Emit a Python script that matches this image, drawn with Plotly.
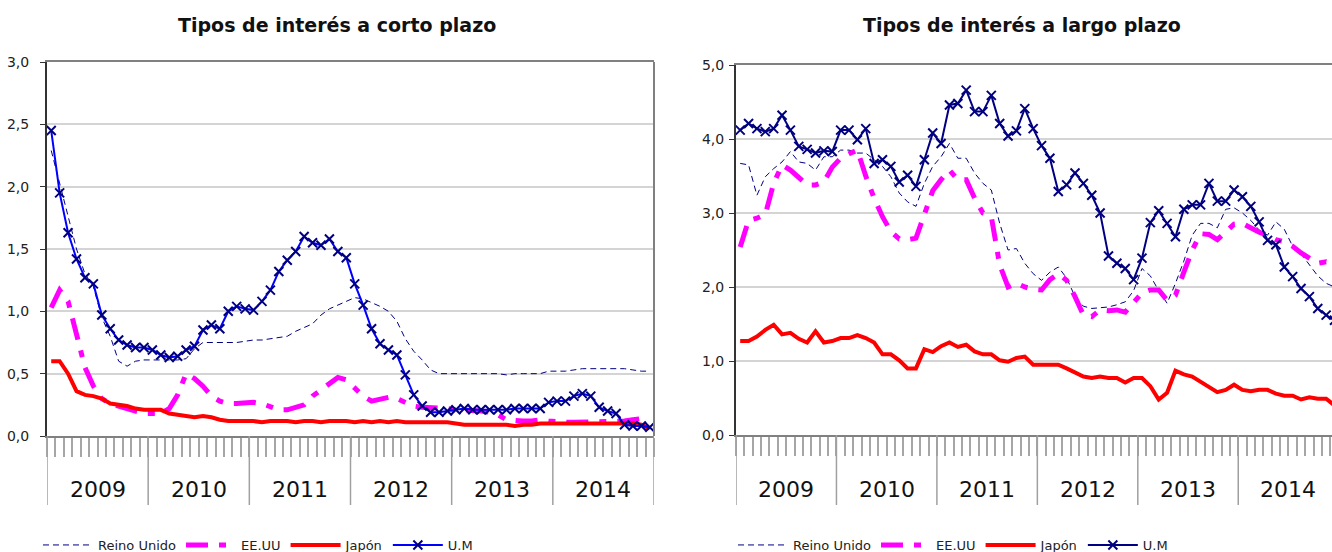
import plotly.graph_objects as go

# ---------------- data ----------------
years = ["2009", "2010", "2011", "2012", "2013", "2014"]
n_months = 72
month_idx = list(range(n_months))

# Short-term rates (Tipos de interés a corto plazo)
st_reino_unido = [
    2.29, 2.02, 1.75, 1.50, 1.30, 1.20, 0.95, 0.80, 0.60, 0.56, 0.60, 0.61,
    0.61, 0.61, 0.61, 0.61, 0.62, 0.70, 0.75, 0.75, 0.75, 0.75, 0.75, 0.76,
    0.77, 0.77, 0.78, 0.79, 0.80, 0.84, 0.87, 0.90, 0.97, 1.02, 1.05, 1.08,
    1.11, 1.10, 1.07, 1.04, 1.00, 0.92, 0.78, 0.68, 0.61, 0.53, 0.50, 0.50,
    0.50, 0.50, 0.50, 0.50, 0.50, 0.50, 0.49, 0.50, 0.50, 0.50, 0.50, 0.52,
    0.52, 0.52, 0.53, 0.54, 0.54, 0.54, 0.54, 0.54, 0.54, 0.53, 0.52, 0.52,
]
st_eeuu = [
    1.03, 1.17, 1.08, 0.80, 0.55, 0.40, 0.30, 0.26, 0.24, 0.21, 0.19, 0.18,
    0.18, 0.18, 0.22, 0.33, 0.50, 0.46, 0.40, 0.32, 0.28, 0.26, 0.26, 0.27,
    0.27, 0.26, 0.24, 0.21, 0.21, 0.23, 0.25, 0.32, 0.37, 0.41, 0.47, 0.45,
    0.38, 0.32, 0.28, 0.29, 0.31, 0.30, 0.27, 0.24, 0.23, 0.23, 0.23, 0.22,
    0.21, 0.21, 0.20, 0.20, 0.19, 0.17, 0.13, 0.12, 0.12, 0.12, 0.13, 0.12,
    0.11, 0.11, 0.11, 0.11, 0.11, 0.11, 0.11, 0.12, 0.12, 0.13, 0.14, 0.12,
]
st_japon = [
    0.60, 0.60, 0.50, 0.36, 0.33, 0.32, 0.30, 0.26, 0.25, 0.24, 0.22, 0.21,
    0.21, 0.21, 0.18, 0.17, 0.16, 0.15, 0.16, 0.15, 0.13, 0.12, 0.12, 0.12,
    0.12, 0.11, 0.12, 0.12, 0.12, 0.11, 0.12, 0.12, 0.11, 0.12, 0.12, 0.12,
    0.11, 0.12, 0.11, 0.12, 0.11, 0.12, 0.11, 0.11, 0.11, 0.11, 0.11, 0.11,
    0.10, 0.09, 0.09, 0.09, 0.09, 0.09, 0.09, 0.08, 0.09, 0.09, 0.10, 0.10,
    0.10, 0.10, 0.10, 0.10, 0.10, 0.10, 0.10, 0.10, 0.10, 0.10, 0.09, 0.06,
]
st_um = [
    2.45, 1.95, 1.63, 1.42, 1.27, 1.22, 0.97, 0.86, 0.77, 0.73, 0.71, 0.71,
    0.69, 0.65, 0.63, 0.64, 0.69, 0.72, 0.85, 0.89, 0.86, 1.00, 1.04, 1.02,
    1.01, 1.08, 1.17, 1.32, 1.41, 1.48, 1.60, 1.55, 1.53, 1.58, 1.48, 1.43,
    1.22, 1.05, 0.86, 0.74, 0.69, 0.65, 0.49, 0.33, 0.24, 0.19, 0.19, 0.20,
    0.21, 0.22, 0.21, 0.21, 0.21, 0.21, 0.21, 0.22, 0.22, 0.22, 0.22, 0.27,
    0.28, 0.28, 0.32, 0.34, 0.32, 0.23, 0.20, 0.18, 0.09, 0.08, 0.08, 0.07,
]

# Long-term rates (Tipos de interés a largo plazo)
lt_reino_unido = [
    3.67, 3.65, 3.24, 3.49, 3.60, 3.69, 3.83, 3.69, 3.67, 3.58, 3.76, 3.76,
    3.85, 3.85, 3.81, 3.81, 3.72, 3.63, 3.49, 3.27, 3.15, 3.09, 3.40, 3.63,
    3.76, 3.94, 3.74, 3.74, 3.54, 3.40, 3.31, 2.86, 2.50, 2.52, 2.32, 2.18,
    2.09, 2.20, 2.27, 2.12, 1.87, 1.74, 1.71, 1.72, 1.73, 1.76, 1.80, 1.95,
    2.25, 2.15, 1.95, 1.78, 2.05, 2.35, 2.70, 2.86, 2.86, 2.80, 3.05, 3.07,
    3.00, 2.90, 2.77, 2.70, 2.88, 2.78, 2.55, 2.45, 2.30, 2.15, 2.05, 2.00,
]
lt_eeuu = [
    2.54, 2.90, 2.93, 2.98, 3.40, 3.65, 3.58, 3.47, 3.38, 3.38, 3.42, 3.62,
    3.74, 3.80, 3.85, 3.50, 3.20, 2.95, 2.75, 2.65, 2.64, 2.66, 3.00, 3.30,
    3.45, 3.58, 3.45, 3.45, 3.20, 3.00, 2.95, 2.30, 2.00, 2.05, 2.00, 1.97,
    1.96, 2.10, 2.18, 2.09, 1.87, 1.62, 1.60, 1.69, 1.68, 1.69, 1.66, 1.80,
    1.92, 1.96, 1.96, 1.82, 1.89, 2.20, 2.50, 2.72, 2.71, 2.64, 2.75, 2.85,
    2.86, 2.80, 2.74, 2.70, 2.64, 2.61, 2.55, 2.46, 2.38, 2.32, 2.34, 2.30,
]
lt_japon = [
    1.27, 1.27, 1.33, 1.42, 1.49, 1.36, 1.38, 1.30, 1.25, 1.40, 1.25, 1.27,
    1.31, 1.31, 1.35, 1.31, 1.25, 1.09, 1.09, 1.01, 0.90, 0.90, 1.16, 1.12,
    1.20, 1.25, 1.19, 1.22, 1.13, 1.09, 1.09, 1.01, 0.99, 1.04, 1.06, 0.95,
    0.95, 0.95, 0.95, 0.90, 0.85, 0.79, 0.77, 0.79, 0.77, 0.77, 0.71, 0.77,
    0.77, 0.66, 0.48, 0.57, 0.87, 0.82, 0.79, 0.72, 0.66, 0.58, 0.61, 0.68,
    0.61, 0.59, 0.61, 0.61, 0.56, 0.53, 0.53, 0.48, 0.51, 0.49, 0.49, 0.40,
]
lt_um = [
    4.12, 4.21, 4.14, 4.10, 4.14, 4.32, 4.12, 3.90, 3.86, 3.81, 3.84, 3.83,
    4.12, 4.12, 3.99, 4.14, 3.67, 3.72, 3.63, 3.42, 3.51, 3.36, 3.72, 4.08,
    3.94, 4.46, 4.48, 4.66, 4.37, 4.37, 4.59, 4.21, 4.04, 4.11, 4.41, 4.14,
    3.91, 3.74, 3.29, 3.38, 3.54, 3.40, 3.24, 3.00, 2.42, 2.32, 2.25, 2.10,
    2.39, 2.87, 3.03, 2.86, 2.68, 3.05, 3.11, 3.11, 3.40, 3.16, 3.16, 3.31,
    3.22, 3.09, 2.88, 2.63, 2.57, 2.27, 2.14, 1.98, 1.87, 1.71, 1.62, 1.55,
]

series_names = ["Reino Unido", "EE.UU", "Japón", "U.M"]
titles = ["Tipos de interés a corto plazo", "Tipos de interés a largo plazo"]

# ---------------- styles ----------------
NAVY = "#000080"
MAG = "#ff00ff"
RED = "#ff0000"
FONT = "DejaVu Sans"

fig = go.Figure()


def add_panel(xa, ya, legend, data, um_line_color):
    uk, us, jp, um = data
    fig.add_trace(go.Scatter(x=month_idx, y=uk, name=series_names[0], mode="lines",
                             line=dict(color=NAVY, width=1, dash="6px,4px"),
                             xaxis=xa, yaxis=ya, legend=legend))
    fig.add_trace(go.Scatter(x=month_idx, y=us, name=series_names[1], mode="lines",
                             line=dict(color=MAG, width=5, dash="22px,11px,7px,11px"),
                             xaxis=xa, yaxis=ya, legend=legend))
    fig.add_trace(go.Scatter(x=month_idx, y=jp, name=series_names[2], mode="lines",
                             line=dict(color=RED, width=4),
                             xaxis=xa, yaxis=ya, legend=legend))
    fig.add_trace(go.Scatter(x=month_idx, y=um, name=series_names[3], mode="lines+markers",
                             line=dict(color=um_line_color, width=2),
                             marker=dict(symbol="x-thin", size=9,
                                         line=dict(width=2, color=NAVY)),
                             xaxis=xa, yaxis=ya, legend=legend))


add_panel("x", "y", "legend", (st_reino_unido, st_eeuu, st_japon, st_um), "#0000ff")
add_panel("x2", "y2", "legend2", (lt_reino_unido, lt_eeuu, lt_japon, lt_um), NAVY)

year_bounds = [12 * k - 0.5 for k in range(len(years) + 1)]
month_bounds = [m - 0.5 for m in range(n_months + 1)]


def xaxis_cfg(domain, rng, anchor):
    return dict(
        domain=domain, range=rng, showgrid=False, zeroline=False, anchor=anchor,
        showline=True, linecolor="#808080", linewidth=2, mirror=True,
        tickmode="array", tickvals=month_bounds, ticktext=[""] * len(month_bounds),
        ticks="outside", ticklen=19, tickcolor="#a6a6a6", tickwidth=1.5,
        automargin=False,
    )


def yaxis_cfg(domain, rng, dtick, anchor, standoff):
    return dict(
        domain=domain, range=rng, dtick=dtick, tick0=0, tickformat=".1f",
        showgrid=True, gridcolor="#d4d4d4", gridwidth=1.5, zeroline=False,
        showline=True, linecolor="#333333", linewidth=2,
        ticks="outside", ticklen=5, tickcolor="#333333",
        tickfont=dict(family=FONT, size=14, color="#222"),
        ticklabelstandoff=standoff, anchor=anchor, automargin=False,
    )


legend_common = dict(orientation="h", xanchor="left", y=7 / 552, yanchor="middle",
                     font=dict(family=FONT, size=13, color="#222"),
                     bgcolor="rgba(0,0,0,0)", itemwidth=50, tracegroupgap=0)

fig.update_layout(
    width=1332, height=552,
    margin=dict(l=0, r=0, t=0, b=0, autoexpand=False),
    paper_bgcolor="white", plot_bgcolor="white",
    separators=",.",
    showlegend=True,
    xaxis=xaxis_cfg([47 / 1332, 654 / 1332], [-0.5, 71.5], "y"),
    yaxis=yaxis_cfg([116 / 552, 490 / 552], [0, 3.0], 0.5, "x", 8),
    xaxis2=xaxis_cfg([736 / 1332, 1.0], [-0.5, 70.7], "y2"),
    yaxis2=yaxis_cfg([117 / 552, 487 / 552], [0, 5.0], 1.0, "x2", 2),
    legend=dict(legend_common, x=38 / 1332),
    legend2=dict(legend_common, x=733 / 1332),
)

# right border of left panel
fig.add_shape(type="line", xref="x domain", yref="y domain", x0=1, x1=1, y0=0, y1=1,
              line=dict(color="#808080", width=2))

# year separators below the axis (from the axis down to y≈505 px)
for xa, ya_dom in [("x", 116 / 552), ("x2", 117 / 552)]:
    for b in year_bounds:
        fig.add_shape(type="line", xref=xa, yref="paper", x0=b, x1=b,
                      y0=ya_dom, y1=(552 - 505) / 552,
                      line=dict(color="#a0a0a0", width=1.5))

# titles
for title, cx in zip(titles, [337, 1022]):
    fig.add_annotation(text=f"<b>{title}</b>", xref="paper", yref="paper",
                       x=cx / 1332, y=(552 - 25) / 552, showarrow=False,
                       xanchor="center", yanchor="middle",
                       font=dict(family=FONT, size=19, color="#111"))

# year labels
for xa in ["x", "x2"]:
    for k, yr in enumerate(years):
        fig.add_annotation(text=yr, xref=xa, yref="paper", x=12 * k + 5.5,
                           y=(552 - 489) / 552, showarrow=False,
                           xanchor="center", yanchor="middle",
                           font=dict(family=FONT, size=22, color="#111"))

fig.write_html(
    "out.html",
    config={"displayModeBar": False},
    post_script="document.body.style.margin='0';document.body.style.overflow='hidden';",
)
